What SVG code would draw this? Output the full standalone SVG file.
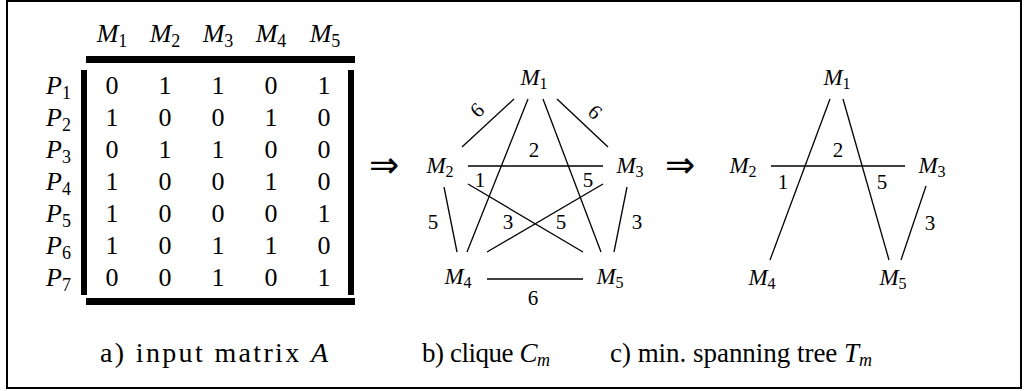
<svg xmlns="http://www.w3.org/2000/svg" width="1024" height="391" viewBox="0 0 1024 391">
<style>
text{font-family:"Liberation Serif","DejaVu Serif",serif;fill:#000}
.mx{font-size:26px;text-anchor:middle}
.hd{font-size:26px;text-anchor:middle}
.rl{font-size:26px;text-anchor:end}
.it{font-style:italic}
.nd{font-size:23px;text-anchor:middle}
.lb{font-size:21px;text-anchor:middle}
.cap{font-size:27px}
.arr{font-family:"DejaVu Sans",sans-serif;font-size:36px;text-anchor:middle}
.e{stroke:#000;stroke-width:1.3;fill:none}
</style>
<rect x="7" y="1" width="1014" height="387" fill="#fff" stroke="#000" stroke-width="2"/>

<g id="matrix">
<rect x="86" y="56" width="269" height="7"/>
<rect x="86" y="298" width="269" height="7"/>
<rect x="81" y="70" width="6" height="225"/>
<rect x="348" y="70" width="6" height="225"/>
<g id="headers">
<text class="hd" x="112" y="42"><tspan class="it">M</tspan><tspan font-size="18" dy="5">1</tspan></text>
<text class="hd" x="165" y="42"><tspan class="it">M</tspan><tspan font-size="18" dy="5">2</tspan></text>
<text class="hd" x="218" y="42"><tspan class="it">M</tspan><tspan font-size="18" dy="5">3</tspan></text>
<text class="hd" x="271" y="42"><tspan class="it">M</tspan><tspan font-size="18" dy="5">4</tspan></text>
<text class="hd" x="325" y="42"><tspan class="it">M</tspan><tspan font-size="18" dy="5">5</tspan></text>
</g>
<g id="rowlabels">
<text class="rl" x="71" y="94"><tspan class="it">P</tspan><tspan font-size="18" dy="5">1</tspan></text>
<text class="rl" x="71" y="126"><tspan class="it">P</tspan><tspan font-size="18" dy="5">2</tspan></text>
<text class="rl" x="71" y="158"><tspan class="it">P</tspan><tspan font-size="18" dy="5">3</tspan></text>
<text class="rl" x="71" y="190"><tspan class="it">P</tspan><tspan font-size="18" dy="5">4</tspan></text>
<text class="rl" x="71" y="222"><tspan class="it">P</tspan><tspan font-size="18" dy="5">5</tspan></text>
<text class="rl" x="71" y="254"><tspan class="it">P</tspan><tspan font-size="18" dy="5">6</tspan></text>
<text class="rl" x="71" y="286"><tspan class="it">P</tspan><tspan font-size="18" dy="5">7</tspan></text>
</g>
<g id="cells">
<text class="mx" x="112" y="94">0</text><text class="mx" x="165" y="94">1</text><text class="mx" x="218" y="94">1</text><text class="mx" x="271" y="94">0</text><text class="mx" x="324" y="94">1</text>
<text class="mx" x="112" y="126">1</text><text class="mx" x="165" y="126">0</text><text class="mx" x="218" y="126">0</text><text class="mx" x="271" y="126">1</text><text class="mx" x="324" y="126">0</text>
<text class="mx" x="112" y="158">0</text><text class="mx" x="165" y="158">1</text><text class="mx" x="218" y="158">1</text><text class="mx" x="271" y="158">0</text><text class="mx" x="324" y="158">0</text>
<text class="mx" x="112" y="190">1</text><text class="mx" x="165" y="190">0</text><text class="mx" x="218" y="190">0</text><text class="mx" x="271" y="190">1</text><text class="mx" x="324" y="190">0</text>
<text class="mx" x="112" y="222">1</text><text class="mx" x="165" y="222">0</text><text class="mx" x="218" y="222">0</text><text class="mx" x="271" y="222">0</text><text class="mx" x="324" y="222">1</text>
<text class="mx" x="112" y="254">1</text><text class="mx" x="165" y="254">0</text><text class="mx" x="218" y="254">1</text><text class="mx" x="271" y="254">1</text><text class="mx" x="324" y="254">0</text>
<text class="mx" x="112" y="286">0</text><text class="mx" x="165" y="286">0</text><text class="mx" x="218" y="286">1</text><text class="mx" x="271" y="286">0</text><text class="mx" x="324" y="286">1</text>
</g>
</g>

<text class="arr" x="384" y="177">⇒</text>
<text class="arr" x="680" y="177">⇒</text>

<g id="clique-connectors">
<line class="e" x1="514" y1="99" x2="462" y2="147"/>
<line class="e" x1="557" y1="99" x2="608" y2="147"/>
<line class="e" x1="528" y1="99" x2="467" y2="252"/>
<line class="e" x1="543" y1="99" x2="601" y2="252"/>
<line class="e" x1="468" y1="166" x2="603" y2="166"/>
<line class="e" x1="468" y1="184" x2="583" y2="252"/>
<line class="e" x1="603" y1="184" x2="487" y2="252"/>
<line class="e" x1="444" y1="187" x2="457" y2="252"/>
<line class="e" x1="627" y1="187" x2="614" y2="252"/>
<line class="e" x1="487" y1="279" x2="583" y2="279"/>
<text class="lb" transform="translate(477,110) rotate(-43)" y="7">6</text>
<text class="lb" transform="translate(595,112) rotate(43)" y="7">6</text>
<text class="lb" x="534" y="157">2</text>
<text class="lb" x="480" y="187">1</text>
<text class="lb" x="588" y="187">5</text>
<text class="lb" x="433" y="229">5</text>
<text class="lb" x="508" y="229">3</text>
<text class="lb" x="561" y="229">5</text>
<text class="lb" x="637" y="229">3</text>
<text class="lb" x="533" y="305">6</text>
</g>
<g id="clique-M1"><text class="nd" x="534" y="85"><tspan class="it">M</tspan><tspan font-size="16" dy="4">1</tspan></text></g>
<g id="clique-M2"><text class="nd" x="440" y="173"><tspan class="it">M</tspan><tspan font-size="16" dy="4">2</tspan></text></g>
<g id="clique-M3"><text class="nd" x="630" y="173"><tspan class="it">M</tspan><tspan font-size="16" dy="4">3</tspan></text></g>
<g id="clique-M4"><text class="nd" x="458" y="284"><tspan class="it">M</tspan><tspan font-size="16" dy="4">4</tspan></text></g>
<g id="clique-M5"><text class="nd" x="610" y="284"><tspan class="it">M</tspan><tspan font-size="16" dy="4">5</tspan></text></g>

<g id="tree-connectors">
<line class="e" x1="830" y1="99" x2="770" y2="260"/>
<line class="e" x1="843" y1="99" x2="889" y2="260"/>
<line class="e" x1="771" y1="166" x2="905" y2="166"/>
<line class="e" x1="926" y1="186" x2="901" y2="260"/>
<text class="lb" x="838" y="157">2</text>
<text class="lb" x="783" y="189">1</text>
<text class="lb" x="882" y="189">5</text>
<text class="lb" x="930" y="230">3</text>
</g>
<g id="tree-M1"><text class="nd" x="837" y="85"><tspan class="it">M</tspan><tspan font-size="16" dy="4">1</tspan></text></g>
<g id="tree-M2"><text class="nd" x="743" y="173"><tspan class="it">M</tspan><tspan font-size="16" dy="4">2</tspan></text></g>
<g id="tree-M3"><text class="nd" x="932" y="173"><tspan class="it">M</tspan><tspan font-size="16" dy="4">3</tspan></text></g>
<g id="tree-M4"><text class="nd" x="762" y="285"><tspan class="it">M</tspan><tspan font-size="16" dy="4">4</tspan></text></g>
<g id="tree-M5"><text class="nd" x="893" y="285"><tspan class="it">M</tspan><tspan font-size="16" dy="4">5</tspan></text></g>

<g id="captions">
<text class="cap" x="100" y="362" style="font-size:28px" textLength="228" lengthAdjust="spacing">a) input matrix <tspan class="it">A</tspan></text>
<text class="cap" x="422" y="362" textLength="128" lengthAdjust="spacing">b) clique <tspan class="it">C</tspan><tspan class="it" font-size="18" dy="4">m</tspan></text>
<text class="cap" x="610" y="362" textLength="262" lengthAdjust="spacing">c) min. spanning tree <tspan class="it">T</tspan><tspan class="it" font-size="18" dy="4">m</tspan></text>
</g>
</svg>
